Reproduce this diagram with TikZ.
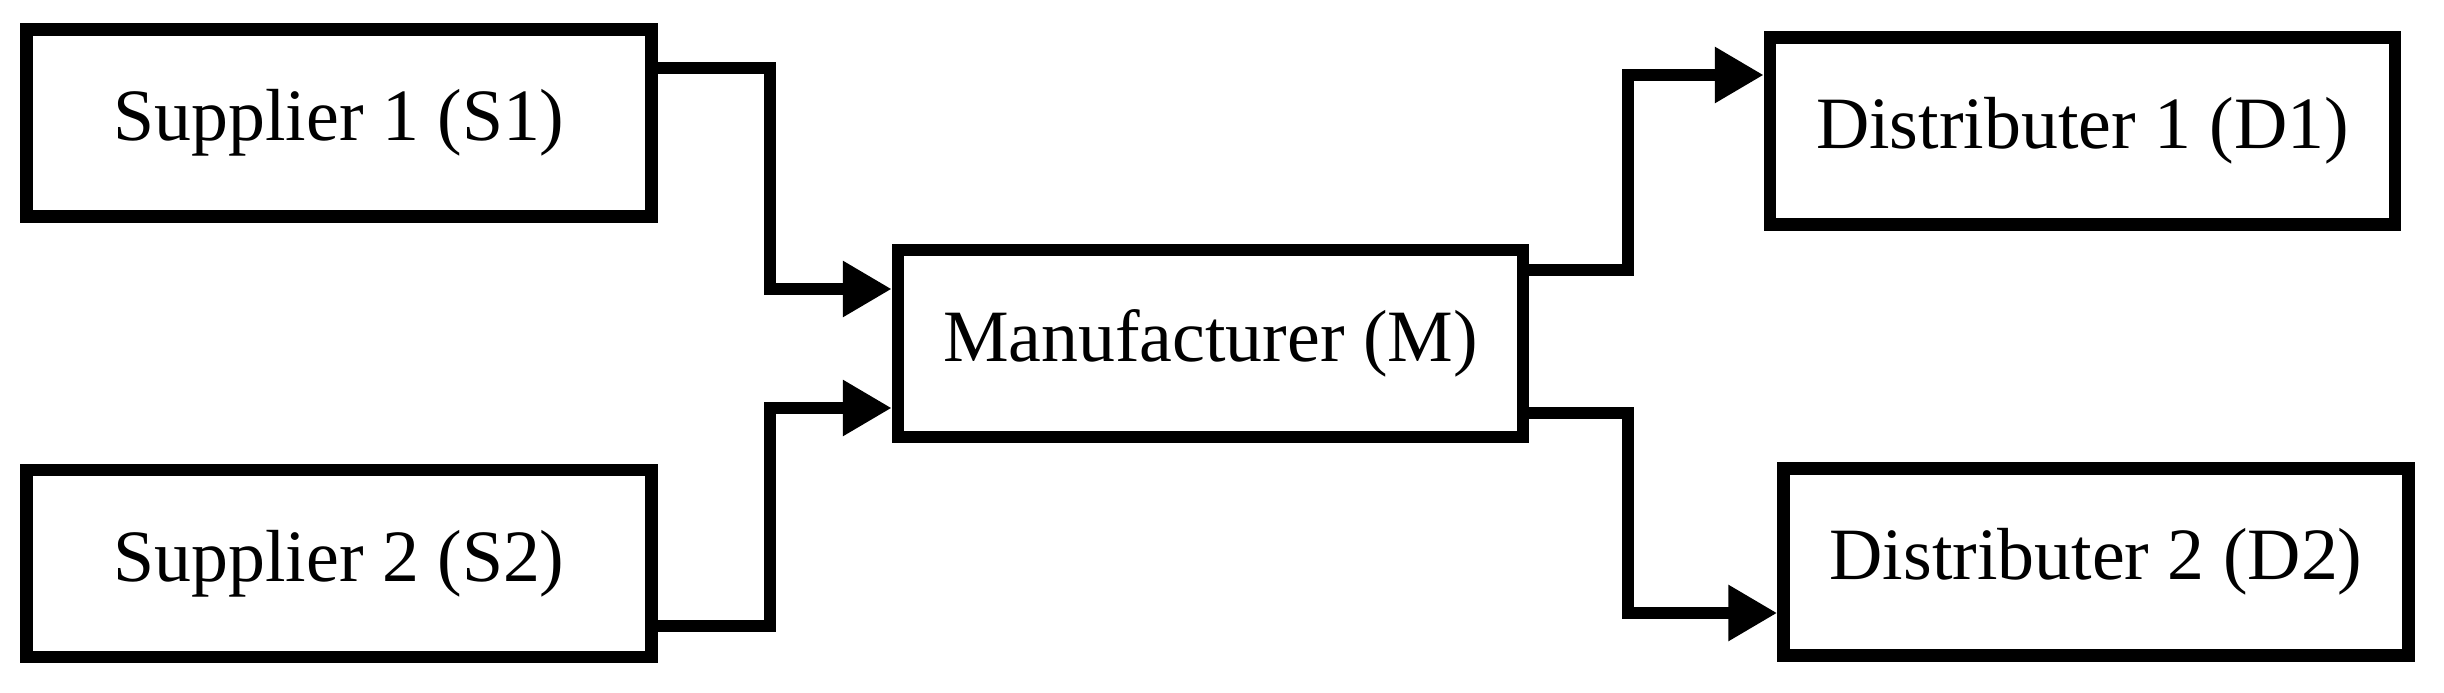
\documentclass[tikz,border=0pt]{standalone}
\usepackage{fontspec}
\setmainfont{Liberation Serif}
\usetikzlibrary{arrows.meta}

\begin{document}
\begin{tikzpicture}[x=0.1mm,y=-0.1mm,
  box/.style={draw, line width=1.25mm, minimum width=62.5mm, minimum height=18.7mm,
    inner sep=0pt, font=\fontsize{21pt}{25pt}\selectfont},
  flow/.style={line width=1.25mm, -{Triangle[length=4.9mm,width=5.3mm]}}]
  \useasboundingbox (0,0) rectangle (2444,693);
  \foreach \name/\x/\y/\lab in {
    S1/339/123/{Supplier 1 (S1)},
    S2/339/563.5/{Supplier 2 (S2)},
    M/1210.5/343.5/{Manufacturer (M)},
    D1/2082.5/131/{Distributer 1 (D1)},
    D2/2096/562/{Distributer 2 (D2)}} {
    \node[box] (\name) at (\x,\y) {\lab};
  }
  \coordinate (jL) at (770,0);
  \coordinate (jR) at (1628,0);
  \foreach \from/\fs/\to/\ts/\via in {
    S1/5.5/M/5.45/jL, S2/-6.25/M/-6.45/jL,
    M/7.35/D1/5.6/jR, M/-6.95/D2/-5.1/jR} {
    \coordinate (out) at ([yshift=\fs mm]\from.east);
    \coordinate (in) at ([yshift=\ts mm]\to.west);
    \draw[flow] (out) -| (\via |- in) -- (in);
  }
\end{tikzpicture}
\end{document}
